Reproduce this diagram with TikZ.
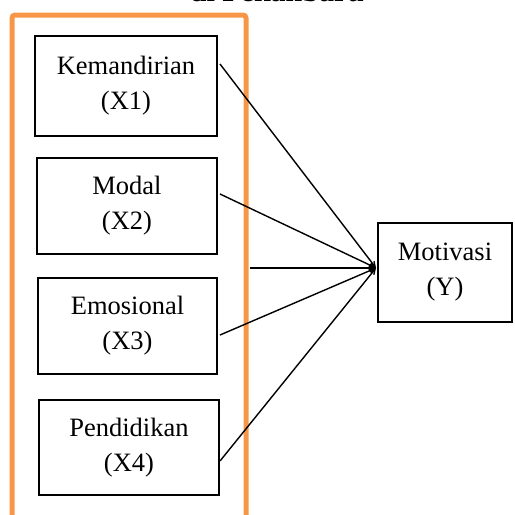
\documentclass[tikz,border=0pt]{standalone}
\usepackage{fontspec}
\setmainfont{Liberation Serif}
\usetikzlibrary{arrows.meta}
\definecolor{frameorange}{HTML}{F79646}
\begin{document}
\begin{tikzpicture}[x=1pt,y=-1pt,
  varbox/.style={draw=black,line width=1.6pt,inner sep=0pt,align=center,
    font=\fontsize{26.5}{35}\selectfont},
  link/.style={draw=black,line width=1.4pt,-{Straight Barb[length=5pt,width=5pt]}},
  frame/.style={draw=frameorange,line width=5pt,rounded corners=3pt}]
\useasboundingbox (0,0) rectangle (515,515);
\clip (0,0) rectangle (515,515);
\node[font=\bfseries\fontsize{30}{34}\selectfont,anchor=base] (title) at (277,1) {di Pekanbaru};
\draw[frame] (12,530) -- (12,15) -- (246,15) -- (246,530);
\node[varbox,minimum width=182pt,minimum height=100pt] (x1) at (126,86) {Kemandirian\\(X1)};
\node[varbox,minimum width=180pt,minimum height=96pt] (x2) at (127,206) {Modal\\(X2)};
\node[varbox,minimum width=179pt,minimum height=96pt] (x3) at (127.5,326) {Emosional\\(X3)};
\node[varbox,minimum width=180pt,minimum height=95pt] (x4) at (129,447.5) {Pendidikan\\(X4)};
\node[varbox,minimum width=134pt,minimum height=99pt] (y) at (445,272.5) {Motivasi\\(Y)};
\coordinate (m) at (376,268);
\coordinate (s1) at (220,64);
\coordinate (s2) at (220,194);
\coordinate (s0) at (250,268);
\coordinate (s3) at (220,335);
\coordinate (s4) at (220,461);
\draw[link] (s1) -- (m);
\draw[link] (s2) -- (m);
\draw[link,line width=2pt] (s0) -- (m);
\draw[link] (s3) -- (m);
\draw[link] (s4) -- (m);
\end{tikzpicture}
\end{document}
